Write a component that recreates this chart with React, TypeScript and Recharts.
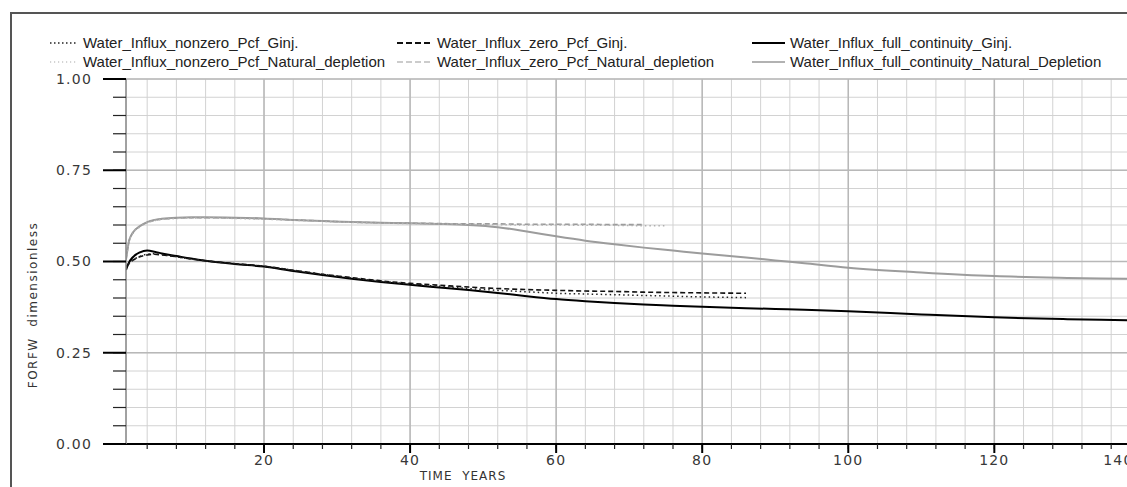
import React from 'react';
import { LineChart, Line, XAxis, YAxis, CartesianGrid, ReferenceLine } from 'recharts';

// years for the full-continuity runs (they go past the right edge)
const yearsFull = [1.1, 1.5, 2, 3, 4, 5, 6, 8, 10, 12, 16, 20, 24, 28, 32, 36, 40, 44, 48, 52, 56, 60, 64, 68, 72, 76, 80, 86, 90, 94, 100, 110, 120, 130, 140, 142];
const fullGinj = [0.477, 0.497, 0.511, 0.525, 0.53, 0.527, 0.522, 0.515, 0.508, 0.502, 0.493, 0.486, 0.474, 0.463, 0.453, 0.444, 0.436, 0.429, 0.422, 0.414, 0.405, 0.397, 0.391, 0.386, 0.382, 0.379, 0.376, 0.372, 0.37, 0.368, 0.364, 0.355, 0.347, 0.342, 0.338, 0.337];
const fullNatural = [0.505, 0.555, 0.578, 0.597, 0.608, 0.614, 0.617, 0.62, 0.621, 0.621, 0.62, 0.618, 0.614, 0.611, 0.608, 0.606, 0.605, 0.603, 0.6, 0.594, 0.582, 0.569, 0.557, 0.547, 0.538, 0.53, 0.522, 0.511, 0.503, 0.495, 0.483, 0.47, 0.46, 0.455, 0.452, 0.451];

// Pcf runs with gas injection stop at ~86 years
const yearsGinj = [1.1, 1.5, 2, 3, 4, 5, 6, 8, 10, 12, 16, 20, 24, 28, 32, 36, 40, 44, 48, 52, 56, 60, 64, 68, 72, 76, 80, 86];
const zeroGinj = [0.485, 0.495, 0.503, 0.513, 0.518, 0.52, 0.518, 0.513, 0.507, 0.502, 0.494, 0.487, 0.476, 0.465, 0.456, 0.447, 0.44, 0.435, 0.43, 0.426, 0.423, 0.421, 0.419, 0.418, 0.416, 0.415, 0.414, 0.413];
const nonzeroGinj = [0.483, 0.494, 0.503, 0.514, 0.52, 0.521, 0.519, 0.513, 0.507, 0.502, 0.494, 0.487, 0.476, 0.465, 0.455, 0.446, 0.438, 0.432, 0.426, 0.421, 0.417, 0.413, 0.411, 0.409, 0.407, 0.405, 0.403, 0.401];

// Pcf runs with natural depletion stop at ~72-75 years
const yearsNatZero = [1.1, 1.5, 2, 3, 4, 5, 6, 8, 10, 12, 16, 20, 24, 28, 32, 36, 40, 44, 48, 52, 56, 60, 64, 68, 72];
const zeroNatural = [0.505, 0.555, 0.577, 0.596, 0.607, 0.613, 0.616, 0.619, 0.62, 0.62, 0.619, 0.617, 0.614, 0.611, 0.608, 0.606, 0.605, 0.604, 0.603, 0.603, 0.602, 0.602, 0.602, 0.601, 0.601];
const yearsNatNonzero = [1.1, 1.5, 2, 3, 4, 5, 6, 8, 10, 12, 16, 20, 24, 28, 32, 36, 40, 44, 48, 52, 56, 60, 64, 68, 72, 75];
const nonzeroNatural = [0.503, 0.553, 0.576, 0.595, 0.606, 0.612, 0.615, 0.618, 0.619, 0.619, 0.618, 0.616, 0.613, 0.61, 0.607, 0.605, 0.604, 0.603, 0.602, 0.601, 0.6, 0.6, 0.599, 0.599, 0.598, 0.598];

const xMajorTicks = [20, 40, 60, 80, 100, 120, 140];
const xMinorTicks = [4, 8, 12, 16, 20, 24, 28, 32, 36, 40, 44, 48, 52, 56, 60, 64, 68, 72, 76, 80, 84, 88, 92, 96, 100, 104, 108, 112, 116, 120, 124, 128, 132, 136, 140];
const yMajorTicks = [0, 0.25, 0.5, 0.75, 1];
const yMinorTicks = [0, 0.05, 0.1, 0.15, 0.2, 0.25, 0.3, 0.35, 0.4, 0.45, 0.5, 0.55, 0.6, 0.65, 0.7, 0.75, 0.8, 0.85, 0.9, 0.95, 1];

const zip = (xs: number[], vs: number[]) => xs.map((x, i) => ({ x, v: vs[i] }));

const tickFont = { fontFamily: 'DejaVu Sans', fontSize: 14, letterSpacing: 1.2, fill: '#383838' };
const isMajorY = (v: number) => yMajorTicks.some((t) => Math.abs(t - v) < 1e-6);

// bottom axis tick: minor line comes from the axis, majors get a longer line and a label
const XTick = (props: any) => {
  const { x, y, payload } = props;
  if (!xMajorTicks.includes(payload.value)) return <g />;
  // the last label is pulled in so it stays inside the frame
  const dx = payload.value === 140 ? -22 : 0;
  return (
    <g>
      <line x1={x} y1={y - 5} x2={x} y2={y + 4} stroke="#000" strokeWidth={2} />
      <text x={x + dx} y={y + 6} dy="0.71em" textAnchor="middle" style={tickFont}>
        {payload.value}
      </text>
    </g>
  );
};

const YTick = (props: any) => {
  const { x, y, payload } = props;
  if (!isMajorY(payload.value)) return <g />;
  return (
    <g>
      <line x1={x + 13} y1={y} x2={x - 10} y2={y} stroke="#000" strokeWidth={2} />
      <text x={x - 21} y={y} dy="0.355em" textAnchor="end" style={tickFont}>
        {payload.value.toFixed(2)}
      </text>
    </g>
  );
};

const legendItems = [
  { label: 'Water_Influx_nonzero_Pcf_Ginj.', left: 50, top: 43, w: 28, color: '#222', dash: '1.5 2.5', sw: 1.5 },
  { label: 'Water_Influx_nonzero_Pcf_Natural_depletion', left: 50, top: 62, w: 28, color: '#aaa', dash: '1.2 2.8', sw: 1.2 },
  { label: 'Water_Influx_zero_Pcf_Ginj.', left: 397, top: 43, w: 35, color: '#111', dash: '6 3', sw: 1.8 },
  { label: 'Water_Influx_zero_Pcf_Natural_depletion', left: 397, top: 62, w: 35, color: '#999', dash: '6 3', sw: 1.2 },
  { label: 'Water_Influx_full_continuity_Ginj.', left: 752, top: 43, w: 33, color: '#000', dash: undefined, sw: 2 },
  { label: 'Water_Influx_full_continuity_Natural_Depletion', left: 752, top: 62, w: 33, color: '#999', dash: undefined, sw: 1.5 },
];

export default function App() {
  return (
    <div
      style={{
        position: 'fixed',
        left: 0,
        top: 0,
        width: 1127,
        height: 487,
        overflow: 'hidden',
        background: '#fff',
      }}
    >
      <div style={{ position: 'absolute', left: 0, top: 0 }}>
        <LineChart width={1200} height={487} margin={{ top: 79, right: 45, bottom: 0, left: 0 }}>
          <CartesianGrid stroke="#d2d2d2" strokeWidth={1} />
          {xMajorTicks.map((t) => (
            <ReferenceLine key={'vx' + t} x={t} stroke="#b8b8b8" strokeWidth={1.5} />
          ))}
          {yMajorTicks.map((t) => (
            <ReferenceLine key={'hy' + t} y={t} stroke="#b8b8b8" strokeWidth={1.5} />
          ))}
          <XAxis
            type="number"
            dataKey="x"
            domain={[1.1, 142]}
            allowDataOverflow
            ticks={xMinorTicks}
            interval={0}
            height={43}
            tickSize={5}
            tickMargin={0}
            tick={<XTick />}
            axisLine={{ stroke: '#000', strokeWidth: 2 }}
            tickLine={{ stroke: '#222', strokeWidth: 1.2 }}
          />
          <YAxis
            type="number"
            domain={[0, 1]}
            ticks={yMinorTicks}
            interval={0}
            width={126}
            tickSize={13}
            tickMargin={0}
            tick={<YTick />}
            axisLine={{ stroke: '#8a8a8a', strokeWidth: 1.5 }}
            tickLine={{ stroke: '#222', strokeWidth: 1.2 }}
          />
          <Line data={zip(yearsFull, fullNatural)} dataKey="v" type="monotone" stroke="#9c9c9c" strokeWidth={2} dot={false} isAnimationActive={false} />
          <Line data={zip(yearsNatZero, zeroNatural)} dataKey="v" type="monotone" stroke="#9a9a9a" strokeWidth={1.6} strokeDasharray="5 3" dot={false} isAnimationActive={false} />
          <Line data={zip(yearsNatNonzero, nonzeroNatural)} dataKey="v" type="monotone" stroke="#b0b0b0" strokeWidth={1.5} strokeDasharray="1.5 3" dot={false} isAnimationActive={false} />
          <Line data={zip(yearsFull, fullGinj)} dataKey="v" type="monotone" stroke="#000" strokeWidth={2} dot={false} isAnimationActive={false} />
          <Line data={zip(yearsGinj, zeroGinj)} dataKey="v" type="monotone" stroke="#111" strokeWidth={1.6} strokeDasharray="5 3" dot={false} isAnimationActive={false} />
          <Line data={zip(yearsGinj, nonzeroGinj)} dataKey="v" type="monotone" stroke="#222" strokeWidth={1.5} strokeDasharray="1.5 3" dot={false} isAnimationActive={false} />
        </LineChart>
      </div>

      {/* outer frame */}
      <div style={{ position: 'absolute', left: 10, top: 12, width: 1130, height: 1.5, background: '#555' }} />
      <div style={{ position: 'absolute', left: 10, top: 12, width: 1.5, height: 480, background: '#555' }} />

      {/* legend */}
      {legendItems.map((it) => (
        <div
          key={it.label}
          style={{
            position: 'absolute',
            left: it.left,
            top: it.top - 9,
            height: 18,
            display: 'flex',
            alignItems: 'center',
            whiteSpace: 'nowrap',
          }}
        >
          <svg width={it.w} height={18} style={{ display: 'block' }}>
            <line x1={0} y1={9} x2={it.w} y2={9} stroke={it.color} strokeWidth={it.sw} strokeDasharray={it.dash} />
          </svg>
          <span
            style={{
              marginLeft: 5,
              fontFamily: '"Liberation Sans", Arial, sans-serif',
              fontSize: 15,
              color: '#222',
              lineHeight: '18px',
            }}
          >
            {it.label}
          </span>
        </div>
      ))}

      {/* axis titles */}
      <div
        style={{
          position: 'absolute',
          left: 463,
          top: 476,
          transform: 'translate(-50%, -50%)',
          fontFamily: 'DejaVu Sans',
          fontSize: 12,
          letterSpacing: 1,
          color: '#333',
          whiteSpace: 'pre',
        }}
      >
        {'TIME  YEARS'}
      </div>
      <div
        style={{
          position: 'absolute',
          left: 33,
          top: 305,
          transform: 'translate(-50%, -50%) rotate(-90deg)',
          fontFamily: 'DejaVu Sans',
          fontSize: 12,
          letterSpacing: 1.5,
          color: '#333',
          whiteSpace: 'pre',
        }}
      >
        {'FORFW  dimensionless'}
      </div>
    </div>
  );
}
